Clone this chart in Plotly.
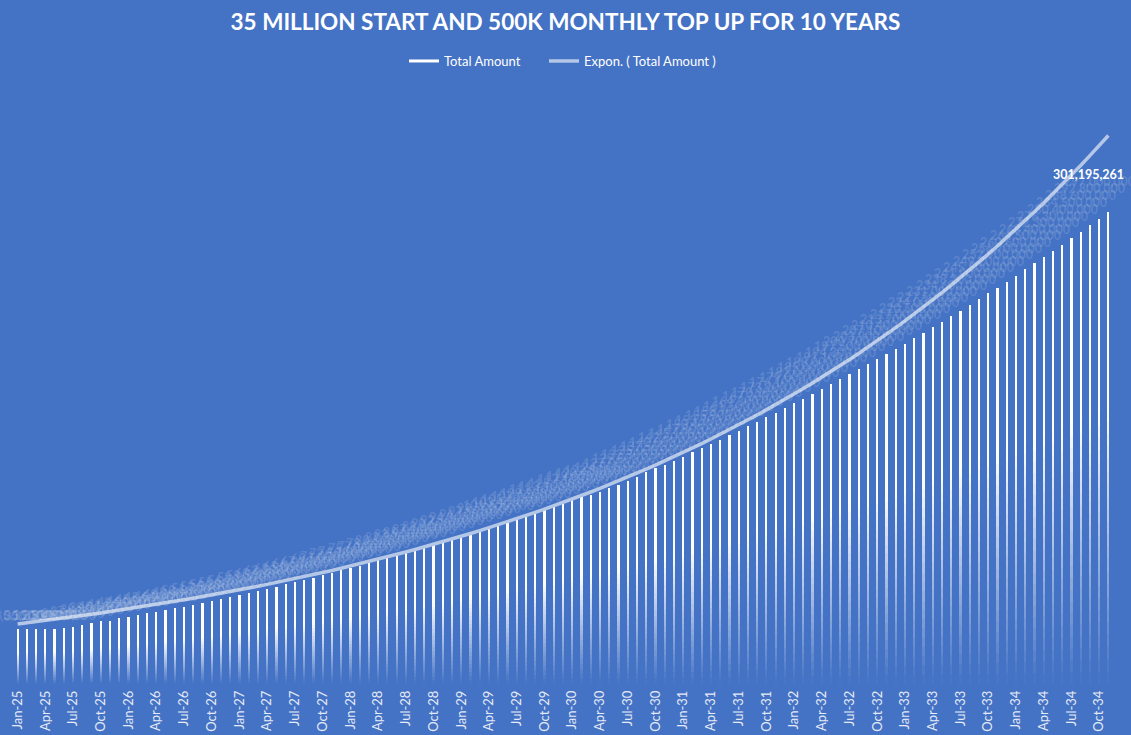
import numpy as np
import pandas as pd
import plotly.graph_objects as go

# Month-end balance, in millions
total_m = [
    35.0, 35.1, 35.2, 35.3, 35.4, 35.6, 36.5, 37.8, 38.8, 39.9,
    40.5, 41.8, 42.9, 44.0, 45.0, 45.9, 46.9, 48.2, 49.4, 50.6,
    51.7, 52.9, 54.2, 55.5, 56.7, 58.1, 59.5, 60.9, 62.2, 63.5,
    65.0, 66.5, 67.9, 69.5, 71.0, 72.5, 74.1, 75.6, 77.1, 78.8,
    80.5, 82.3, 83.9, 85.5, 87.1, 88.8, 90.6, 92.5, 94.3, 96.1,
    97.9, 99.7, 101.6, 103.4, 105.4, 107.2, 109.2, 111.1, 113.1, 115.1,
    117.1, 119.0, 120.9, 122.8, 124.8, 127.0, 129.8, 132.3, 135.0, 137.5,
    140.0, 142.6, 145.1, 147.8, 150.4, 153.2, 155.9, 158.7, 161.5, 164.3,
    167.2, 170.2, 173.2, 176.1, 179.0, 182.0, 185.0, 188.0, 191.1, 194.3,
    197.5, 200.7, 203.9, 207.1, 210.4, 213.7, 217.0, 220.5, 224.0, 227.5,
    231.0, 234.6, 238.2, 241.9, 245.5, 249.2, 252.9, 256.7, 260.6, 264.5,
    268.4, 272.3, 276.3, 280.4, 284.5, 288.6, 292.8, 297.0, 301.195261,
]

months = pd.date_range("2025-01-01", periods=len(total_m), freq="MS").strftime("%b-%y").tolist()
tick_labels = months[::3]

BG = "#4472C4"
FONT = "Lato"

totals = np.array(total_m) * 1e6
xs = np.arange(len(totals))

fig = go.Figure()

# Drop line from every point to the axis, as a gradient:
# clear just under the point, solid white, then fading out towards the axis.
FADE_TOP = 0.55
GAP = 0.946
n_fade = 22
bands = [(k / n_fade * FADE_TOP, (k + 1) / n_fade * FADE_TOP, (k + 0.5) / n_fade)
         for k in range(n_fade)]
bands.append((FADE_TOP, GAP, 1.0))
bands.append((GAP, 1.0, 0.0))
for lo, hi, alpha in bands:
    fig.add_bar(
        x=xs, y=totals * (hi - lo), width=0.24,
        marker=dict(color=f"rgba(255,255,255,{alpha:.3f})", line=dict(width=0)),
        showlegend=False, hoverinfo="skip",
    )

# Legend entry for the series
fig.add_scatter(x=[None], y=[None], mode="lines", name="Total Amount",
                line=dict(color="white", width=3), legend="legend")

# Exponential trendline: least-squares fit of ln(y) against x
b, a = np.polyfit(xs + 1, np.log(totals), 1)
trend = np.exp(a + b * (xs + 1))
fig.add_scatter(x=xs, y=trend, mode="lines", name="Expon. ( Total Amount )",
                line=dict(color="#B4C7E7", width=3.5), hoverinfo="skip",
                legend="legend2")

# Value labels above each point
annotations = []
last = len(totals) - 1
for i, v in enumerate(totals):
    is_last = i == last
    annotations.append(dict(
        x=i, y=v, xref="x", yref="y", yshift=10, xshift=-20 if is_last else 0,
        text=f"<b>{v:,.0f}</b>", showarrow=False, yanchor="middle",
        font=dict(family=FONT, size=12.5,
                  color="white" if is_last else "rgba(255,255,255,0.15)"),
    ))

legend_style = dict(
    orientation="h", y=1.0577, yanchor="middle", xanchor="left",
    font=dict(family=FONT, size=13, color="white"), bgcolor="rgba(0,0,0,0)",
)

fig.update_layout(
    width=1131, height=735,
    margin=dict(l=13, r=18, t=95, b=51, autoexpand=False),
    paper_bgcolor=BG, plot_bgcolor=BG,
    barmode="stack", bargap=0,
    font=dict(family=FONT, color="white"),
    title=dict(
        text="<b>35 MILLION START AND 500K MONTHLY TOP UP FOR 10 YEARS</b>",
        x=0.5, xanchor="center", y=1 - 22 / 735, yanchor="middle",
        font=dict(family=FONT, size=22.5, color="white"),
    ),
    legend=dict(x=(404 - 13) / 1100, **legend_style),
    legend2=dict(x=(544 - 13) / 1100, **legend_style),
    xaxis=dict(
        range=[-0.5, len(totals) - 0.5],
        tickmode="array", tickvals=xs[::3], ticktext=tick_labels,
        tickangle=-90, showgrid=False, zeroline=False, showline=False,
        ticks="", ticklabelstandoff=3, automargin=False,
        tickfont=dict(family=FONT, size=13, color="#E4EAF6"),
    ),
    yaxis=dict(range=[0, 355.5e6], visible=False, automargin=False),
    annotations=annotations,
    showlegend=True,
)

fig.write_html("out.html")
